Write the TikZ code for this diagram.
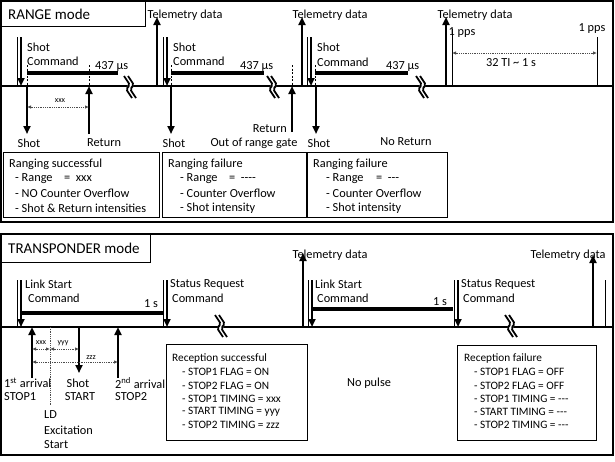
\documentclass[tikz,border=0pt]{standalone}
\usepackage{fontspec}
\setmainfont{Carlito}[Ligatures=TeXOff]
\usetikzlibrary{arrows.meta}
\newcommand\cmdarrow[4]{%
  \draw[thn] (#1,#3) -- (#1,#4);
  \draw[arr] (#2,#3) -- (#2,#4);}
\newcommand\brksym[2]{%
  \draw[white,line width=5pt,rounded corners=2pt] (#1-3,#2-11) -- (#1+3,#2-2) -- (#1-1,#2+2) -- (#1+5,#2+11);
  \draw[line width=1.8pt,rounded corners=2pt] (#1-5,#2-11) -- (#1+1,#2-2) -- (#1-3,#2+2) -- (#1+3,#2+11);
  \draw[line width=1.8pt,rounded corners=2pt] (#1-1,#2-11) -- (#1+5,#2-2) -- (#1+1,#2+2) -- (#1+7,#2+11);}
\begin{document}
\begin{tikzpicture}[x=1pt,y=-1pt,
  base/.style={line width=2.4pt},
  thn/.style={line width=1pt},
  arr/.style={line width=2.4pt,-{Triangle[length=8pt,width=7pt]}},
  bar/.style={line width=3.5pt},
  dsh/.style={line width=0.8pt,dash pattern=on 2pt off 1.5pt},
  dim/.style={densely dotted,line width=0.8pt,black!70,{Latex[length=4pt,width=3.5pt]}-{Latex[length=4pt,width=3.5pt]}},
  lbl/.style={font=\fontsize{12.3}{14}\selectfont,inner sep=0pt},
  blbl/.style={font=\fontsize{11.3}{13}\selectfont,inner sep=0pt},
  sml/.style={font=\fontsize{8}{9}\selectfont,inner sep=0pt},
  ttl/.style={font=\fontsize{15}{17}\selectfont,inner sep=0pt},
  panel/.style={line width=1.6pt},
  boxd/.style={line width=0.8pt}]
\useasboundingbox (0,0) rectangle (615,461);
% ---------------- RANGE mode ----------------
\draw[panel] (1,1) rectangle (613,222);
\draw[boxd] (1,1) rectangle (145,26);
\node[ttl,anchor=west] (t1) at (8,14) {RANGE mode};
\draw[base] (1,86) -- (613,86);
% first shot
\cmdarrow{17}{21}{37}{86}
\node[lbl,anchor=west] (sc1a) at (27,47) {Shot};
\node[lbl,anchor=west] (sc1b) at (27,61) {Command};
\draw[dsh] (27,65) -- (27,86);
\draw[dsh] (89,65) -- (89,86);
\draw[bar] (27,73) -- (118,73);
\node[lbl,anchor=west] (u1) at (95,66) {437 µs};
\brksym{129}{87}
\draw[arr] (27,86) -- (27,134);
\draw[arr] (89,134) -- (89,86);
\node[lbl] (s1) at (29,143) {Shot};
\node[lbl,anchor=west] (r1) at (87,143) {Return};
\draw[dim] (27,107) -- (89,107);
\node[sml] (x1) at (60,101) {xxx};
% telemetry 1 and second shot
\draw[arr] (157,86) -- (157,17);
\node[lbl] (tm1) at (185,15) {Telemetry data};
\cmdarrow{163}{167}{37}{86}
\node[lbl,anchor=west] (sc2a) at (173,47) {Shot};
\node[lbl,anchor=west] (sc2b) at (173,61) {Command};
\draw[dsh] (171,65) -- (171,86);
\draw[bar] (171,73) -- (264,73);
\node[lbl,anchor=west] (u2) at (240,66) {437 µs};
\brksym{272}{87}
\draw[dsh] (292,65) -- (292,86);
\draw[arr] (171,86) -- (171,134);
\draw[arr] (292,132) -- (292,86);
\node[lbl] (s2) at (174,143) {Shot};
\node[lbl,anchor=east] (r2) at (287,129) {Return};
\node[lbl] (og) at (254,143) {Out of range gate};
% telemetry 2 and third shot
\draw[arr] (302,86) -- (302,17);
\node[lbl] (tm2) at (330,15) {Telemetry data};
\cmdarrow{307}{311}{37}{86}
\node[lbl,anchor=west] (sc3a) at (317,47) {Shot};
\node[lbl,anchor=west] (sc3b) at (317,62) {Command};
\draw[dsh] (315,65) -- (315,86);
\draw[bar] (315,73) -- (408,73);
\node[lbl,anchor=west] (u3) at (386,66) {437 µs};
\brksym{421}{87}
\draw[arr] (316,86) -- (316,134);
\node[lbl] (s3) at (319,143) {Shot};
\node[lbl] (nr) at (406,142) {No Return};
% telemetry 3, 1 pps
\draw[arr] (446,86) -- (446,17);
\node[lbl] (tm3) at (475,15) {Telemetry data};
\draw[thn] (452,29) -- (452,86);
\draw[thn] (597,37) -- (597,86);
\node[lbl] (pp1) at (462,33) {1 pps};
\node[lbl] (pp2) at (592,29) {1 pps};
\draw[dim] (452,53) -- (597,53);
\node[lbl] (ti) at (511,63) {32 TI \textasciitilde\ 1 s};
% boxes
\draw[boxd] (3,152) rectangle (159,217);
\node[lbl,anchor=west] (b1a) at (9,164) {Ranging successful};
\node[lbl,anchor=west] (b1b) at (15,179) {- Range};
\node[lbl,anchor=west] (b1e) at (64,179) {=\ \ xxx};
\node[lbl,anchor=west] (b1c) at (15,193.5) {- NO Counter Overflow};
\node[lbl,anchor=west] (b1d) at (15,208) {- Shot \& Return intensities};
\draw[boxd] (162,152) rectangle (306,217);
\node[lbl,anchor=west] (b2a) at (168,164) {Ranging failure};
\node[lbl,anchor=west] (b2b) at (180,179) {- Range};
\node[lbl,anchor=west] (b2e) at (229,179) {=\ \ ----};
\node[lbl,anchor=west] (b2c) at (180,193.5) {- Counter Overflow};
\node[lbl,anchor=west] (b2d) at (180,208) {- Shot intensity};
\draw[boxd] (307,152) rectangle (447,217);
\node[lbl,anchor=west] (b3a) at (313,164) {Ranging failure};
\node[lbl,anchor=west] (b3b) at (326,179) {- Range};
\node[lbl,anchor=west] (b3e) at (376,179) {=\ \ ---};
\node[lbl,anchor=west] (b3c) at (326,193.5) {- Counter Overflow};
\node[lbl,anchor=west] (b3d) at (326,208) {- Shot intensity};
% ---------------- TRANSPONDER mode ----------------
\draw[panel] (1,234) rectangle (613,455);
\draw[boxd] (1,234) rectangle (150,262);
\node[ttl,anchor=west] (t2) at (8,248) {TRANSPONDER mode};
\draw[base] (1,327) -- (613,327);
% link start 1
\cmdarrow{17}{21}{280}{327}
\node[lbl,anchor=west] (ls1a) at (25,284) {Link Start};
\node[lbl,anchor=west] (ls1b) at (28,298) {Command};
\draw[bar] (21,313) -- (163,313);
\node[lbl] (o1) at (151,304) {1 s};
\cmdarrow{163}{167}{280}{327}
\node[lbl,anchor=west] (sr1a) at (170,284) {Status Request};
\node[lbl,anchor=west] (sr1b) at (172,298) {Command};
\brksym{220}{326}
% arrivals
\draw[arr] (32,378) -- (32,327);
\draw[densely dotted,line width=0.8pt,black!70] (50,327) -- (50,406);
\draw[arr] (79,327) -- (79,373);
\draw[arr] (118,378) -- (118,327);
\draw[dim] (32,349) -- (50,349);
\draw[dim] (50,349) -- (79,349);
\draw[dim] (32,362) -- (118,362);
\node[sml] (dx) at (41,343) {xxx};
\node[sml] (dy) at (63,343) {yyy};
\node[sml] (dz) at (91,358) {zzz};
\node[lbl,anchor=west] (a1) at (4,383) {1\textsuperscript{st} arrival};
\node[lbl,anchor=west] (a1b) at (4,397) {STOP1};
\node[lbl] (sh) at (78,383) {Shot};
\node[lbl] (st) at (80,397) {START};
\node[lbl,anchor=west] (a2) at (115,383) {2\textsuperscript{nd} arrival};
\node[lbl,anchor=west] (a2b) at (115,397) {STOP2};
\node[lbl,anchor=west] (ld) at (44,415) {LD};
\node[lbl,anchor=west] (ex) at (44,430) {Excitation};
\node[lbl,anchor=west] (es) at (44,445) {Start};
% reception successful box
\draw[boxd] (166,344) rectangle (307,440);
\node[blbl,anchor=west] (rs0) at (172,358) {Reception successful};
\node[blbl,anchor=west] (rs1) at (182,372) {- STOP1 FLAG = ON};
\node[blbl,anchor=west] (rs2) at (182,385.5) {- STOP2 FLAG = ON};
\node[blbl,anchor=west] (rs3) at (182,399) {- STOP1 TIMING = xxx};
\node[blbl,anchor=west] (rs4) at (182,412) {- START TIMING = yyy};
\node[blbl,anchor=west] (rs5) at (182,425) {- STOP2 TIMING = zzz};
% telemetry, link start 2
\draw[arr] (303,327) -- (303,253);
\node[lbl] (tm4) at (330,255) {Telemetry data};
\cmdarrow{308}{312}{280}{327}
\node[lbl,anchor=west] (ls2a) at (315,284) {Link Start};
\node[lbl,anchor=west] (ls2b) at (317,298) {Command};
\draw[bar] (312,309) -- (453,309);
\node[lbl] (o2) at (440,302) {1 s};
\cmdarrow{454}{458}{280}{327}
\node[lbl,anchor=west] (sr2a) at (461,284) {Status Request};
\node[lbl,anchor=west] (sr2b) at (463,298) {Command};
\brksym{510}{326}
\node[lbl] (np) at (369,383) {No pulse};
\draw[arr] (593,327) -- (593,255);
\node[lbl] (tm5) at (568,255) {Telemetry data};
\draw[thn] (605,280) -- (605,327);
% reception failure box
\draw[boxd] (457,345) rectangle (596,440);
\node[blbl,anchor=west] (rf0) at (464,358) {Reception failure};
\node[blbl,anchor=west] (rf1) at (474,372) {- STOP1 FLAG = OFF};
\node[blbl,anchor=west] (rf2) at (474,385.5) {- STOP2 FLAG = OFF};
\node[blbl,anchor=west] (rf3) at (474,399) {- STOP1 TIMING = ---};
\node[blbl,anchor=west] (rf4) at (474,412) {- START TIMING = ---};
\node[blbl,anchor=west] (rf5) at (474,425) {- STOP2 TIMING = ---};
\end{tikzpicture}
\end{document}
